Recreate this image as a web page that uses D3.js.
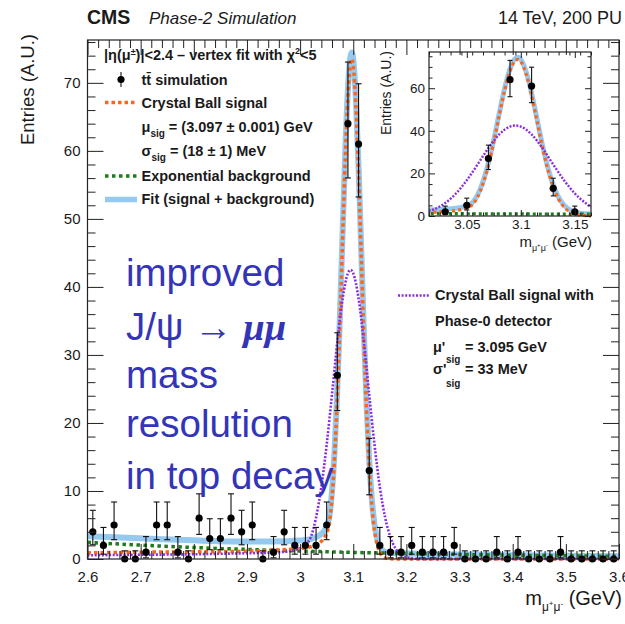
<!DOCTYPE html>
<html><head><meta charset="utf-8">
<script src="https://cdn.jsdelivr.net/npm/d3@7/dist/d3.min.js"></script>
<style>body{margin:0;background:#fff}svg{display:block}</style>
</head><body>
<script>
// ---------- data ----------
const binCenters=[2.61,2.63,2.65,2.67,2.69,2.71,2.73,2.75,2.77,2.79,
2.81,2.83,2.85,2.87,2.89,2.91,2.93,2.95,2.97,2.99,
3.01,3.03,3.05,3.07,3.09,3.11,3.13,3.15,3.17,3.19,
3.21,3.23,3.25,3.27,3.29,3.31,3.33,3.35,3.37,3.39,
3.41,3.43,3.45,3.47,3.49,3.51,3.53,3.55,3.57,3.59];
const entries=[4,2,5,0,0,1,5,5,1,0, 6,3,3,6,4,5,0,1,4,2, 2,2,5,27,64,61,13,2,1,1, 2,1,1,1,2,0,0,0,1,0, 1,0,0,0,1,0,0,0,0,0];
const errHi=[3.16,2.64,3.38,1.2,1.2,2.3,3.38,3.38,2.3,1.2, 3.58,2.92,2.92,3.58,3.16,3.38,1.2,2.3,3.16,2.64, 2.64,2.64,3.38,6.26,9.06,8.87,4.73,2.64,2.3,2.3, 2.64,2.3,2.3,2.3,2.64,1.2,1.2,1.2,2.3,1.2, 2.3,1.2,1.2,1.2,2.3,1.2,1.2,1.2,1.2,1.2];
const errLo=[1.91,1.29,2.16,0,0,0.83,2.16,2.16,0.83,0, 2.38,1.63,1.63,2.38,1.91,2.16,0,0.83,1.91,1.29, 1.29,1.29,2.16,5.17,7.98,7.78,3.56,1.29,0.83,0.83, 1.29,0.83,0.83,0.83,1.29,0,0,0,0.83,0, 0.83,0,0,0,0.83,0,0,0,0,0];

const curveX=[2.6,2.7,2.8,2.9,2.95,3.0,3.02,3.03,3.04,3.045,3.05,3.055,3.06,3.065,3.07,3.075,3.08,3.085,3.09,3.095,3.0975,3.1,3.105,3.11,3.115,3.12,3.125,3.13,3.135,3.14,3.145,3.15,3.155,3.16,3.17,3.2,3.3,3.4,3.5,3.6];
const signalY=[0.9,1.0,1.05,1.15,1.3,1.55,1.8,2.1,2.6,3.0,3.8,5.2,8.9,15.1,23.9,34.8,47.1,58.9,68.1,73.0,73.5,72.5,66.6,56.7,44.6,32.5,21.9,13.7,7.9,4.2,2.1,0.98,0.41,0.16,0.02,0,0,0,0,0];
const fitY=[3.35,3.04,2.74,2.56,2.58,2.72,2.93,3.21,3.69,4.08,4.87,6.26,9.95,16.14,24.93,35.82,48.11,59.9,69.09,73.98,74.48,73.47,67.56,57.65,45.54,33.44,22.83,14.62,8.81,5.1,3.0,1.87,1.29,1.03,0.88,0.81,0.67,0.56,0.47,0.39];
const bkgX=[2.6,2.7,2.8,2.9,3.0,3.1,3.2,3.3,3.4,3.5,3.6];
const bkgY=[2.45,2.04,1.69,1.41,1.17,0.97,0.81,0.67,0.56,0.47,0.39];
const phase0X=[2.6,2.7,2.8,2.9,2.95,2.98,3.0,3.01,3.02,3.03,3.04,3.05,3.06,3.07,3.08,3.09,3.095,3.1,3.11,3.12,3.13,3.14,3.15,3.16,3.17,3.18,3.19,3.2,3.21,3.22,3.25,3.4,3.6];
const phase0Y=[0.55,0.62,0.7,0.85,0.95,1.15,1.6,2.1,3.2,6.1,10.6,16.8,24.2,31.9,38.3,42.0,42.5,42.0,38.3,31.9,24.2,16.8,10.6,6.1,3.2,1.5,0.68,0.27,0.1,0.03,0,0,0];

const xTicks=[2.6,2.7,2.8,2.9,3.0,3.1,3.2,3.3,3.4,3.5,3.6];
const xTickLabels=["2.6","2.7","2.8","2.9","3","3.1","3.2","3.3","3.4","3.5","3.6"];
const yTicks=[0,10,20,30,40,50,60,70];
const yTickLabels=["0","10","20","30","40","50","60","70"];
const insetXTicks=[3.05,3.1,3.15];
const insetXTickLabels=["3.05","3.1","3.15"];
const insetYTicks=[0,20,40,60];
const insetYTickLabels=["0","20","40","60"];

// ---------- colours ----------
const C_FIT="#95c9f0", C_SIG="#fa661c", C_BKG="#1b7d1b", C_PH0="#8a2be2", C_TXT="#1a1a1a", C_BIG="#3434b8";
const FONT="'Liberation Sans', Arial, Helvetica, sans-serif";

const svg=d3.select("body").append("svg").attr("width",625).attr("height",624)
  .style("font-family",FONT);
svg.append("rect").attr("width",625).attr("height",624).attr("fill","#fff");
const defs=svg.append("defs");

function drawPanel(g, x, y, opt){
  const [x0,x1]=x.range(), [y0,y1]=y.range(); // y0 bottom, y1 top
  const cid="clip"+opt.id;
  defs.append("clipPath").attr("id",cid).append("rect")
    .attr("x",x0).attr("y",y1).attr("width",x1-x0).attr("height",y0-y1+3);
  const cg=g.append("g").attr("clip-path",`url(#${cid})`);
  const line=(xs,ys)=>d3.line().x(d=>x(d[0])).y(d=>y(d[1])).curve(d3.curveMonotoneX)(d3.zip(xs,ys));
  cg.append("path").attr("d",line(curveX,fitY)).attr("fill","none").attr("stroke",C_FIT).attr("stroke-width",opt.fitW).attr("stroke-linejoin","round");
  cg.append("path").attr("d",line(bkgX,bkgY)).attr("fill","none").attr("stroke",C_BKG).attr("stroke-width",opt.dotW).attr("stroke-dasharray",opt.bkgDash);
  cg.append("path").attr("d",line(curveX,signalY)).attr("fill","none").attr("stroke",C_SIG).attr("stroke-width",opt.dotW).attr("stroke-dasharray",opt.sigDash);
  cg.append("path").attr("d",line(phase0X,phase0Y)).attr("fill","none").attr("stroke",C_PH0).attr("stroke-width",opt.phW).attr("stroke-dasharray",opt.phDash);

  // points
  const dom=x.domain();
  const pts=binCenters.map((c,i)=>({c,v:entries[i],hi:errHi[i],lo:errLo[i]})).filter(p=>p.c>=dom[0]&&p.c<=dom[1]);
  const pg=g.append("g");
  pts.forEach(p=>{
    const cx=x(p.c), yt=y(p.v+p.hi), yb=y(p.v-p.lo);
    pg.append("line").attr("x1",cx).attr("x2",cx).attr("y1",yt).attr("y2",yb).attr("stroke","#111").attr("stroke-width",1.1);
    pg.append("line").attr("x1",cx-opt.cap).attr("x2",cx+opt.cap).attr("y1",yt).attr("y2",yt).attr("stroke","#111").attr("stroke-width",1.1);
    if(p.lo>0) pg.append("line").attr("x1",cx-opt.cap).attr("x2",cx+opt.cap).attr("y1",yb).attr("y2",yb).attr("stroke","#111").attr("stroke-width",1.1);
    pg.append("circle").attr("cx",cx).attr("cy",y(p.v)).attr("r",opt.r).attr("fill","#000");
  });

  // axes
  function styl(a){ a.select(".domain").remove(); a.selectAll("line").attr("stroke","#222").attr("stroke-width",1);
    a.selectAll("text").attr("fill",C_TXT).style("font-size",opt.tickFont+"px").style("font-family",FONT); }
  const xMinor=d3.range(dom[0],dom[1]+1e-9,opt.xMinorStep).filter(v=>!opt.xMajor.some(m=>Math.abs(m-v)<1e-6));
  const yd=y.domain();
  const yMinor=d3.range(0,yd[1],opt.yMinorStep).filter(v=>!opt.yMajor.some(m=>Math.abs(m-v)<1e-6));
  styl(g.append("g").attr("transform",`translate(0,${y0})`).call(d3.axisBottom(x).tickValues(opt.xMajor).tickFormat((d,i)=>opt.xLabels[i]).tickSize(-opt.major).tickPadding(opt.xPad)));
  styl(g.append("g").attr("transform",`translate(0,${y0})`).call(d3.axisBottom(x).tickValues(xMinor).tickFormat("").tickSize(-opt.minor)));
  styl(g.append("g").attr("transform",`translate(0,${y1})`).call(d3.axisTop(x).tickValues(opt.xMajor).tickFormat("").tickSize(-opt.major)));
  styl(g.append("g").attr("transform",`translate(0,${y1})`).call(d3.axisTop(x).tickValues(xMinor).tickFormat("").tickSize(-opt.minor)));
  styl(g.append("g").attr("transform",`translate(${x0},0)`).call(d3.axisLeft(y).tickValues(opt.yMajor).tickFormat((d,i)=>opt.yLabels[i]).tickSize(-opt.majorY).tickPadding(opt.yPad)));
  styl(g.append("g").attr("transform",`translate(${x0},0)`).call(d3.axisLeft(y).tickValues(yMinor).tickFormat("").tickSize(-opt.minorY)));
  styl(g.append("g").attr("transform",`translate(${x1},0)`).call(d3.axisRight(y).tickValues(opt.yMajor).tickFormat("").tickSize(-opt.majorY)));
  styl(g.append("g").attr("transform",`translate(${x1},0)`).call(d3.axisRight(y).tickValues(yMinor).tickFormat("").tickSize(-opt.minorY)));
  g.append("rect").attr("x",x0).attr("y",y1).attr("width",x1-x0).attr("height",y0-y1).attr("fill","none").attr("stroke","#222").attr("stroke-width",1.2);
}

// ---------- main panel ----------
const x=d3.scaleLinear().domain([2.6,3.6]).range([87.5,619]);
const y=d3.scaleLinear().domain([0,76.3]).range([559,40]);
drawPanel(svg.append("g"), x, y, {id:"m", fitW:6, dotW:3.5, sigDash:"3.5,3", bkgDash:"3.5,3.5", phW:2.6, phDash:"2,1.6",
  cap:3, r:3.6, tickFont:15, xMajor:xTicks, xLabels:xTickLabels, yMajor:yTicks, yLabels:yTickLabels,
  xMinorStep:0.02, yMinorStep:2, major:15, minor:8, majorY:16, minorY:8, xPad:12, yPad:7});

// ---------- inset ----------
const xi=d3.scaleLinear().domain([3.015,3.165]).range([429,591]);
const yi=d3.scaleLinear().domain([0,77]).range([216,52]);
drawPanel(svg.append("g"), xi, yi, {id:"i", fitW:5, dotW:3.2, sigDash:"3.2,3", bkgDash:"3,3", phW:2.4, phDash:"2,1.5",
  cap:2.5, r:3.6, tickFont:13.5, xMajor:insetXTicks, xLabels:insetXTickLabels, yMajor:insetYTicks, yLabels:insetYTickLabels,
  xMinorStep:0.01, yMinorStep:5, major:6, minor:3.5, majorY:6, minorY:3.5, xPad:3, yPad:4});

// ---------- header ----------
svg.append("text").attr("x",87).attr("y",24).style("font-size","19.5px").style("font-weight","bold").attr("fill",C_TXT).text("CMS");
svg.append("text").attr("x",149).attr("y",24).style("font-size","17px").style("font-style","italic").attr("fill",C_TXT).text("Phase-2 Simulation");
svg.append("text").attr("x",622).attr("y",24).attr("text-anchor","end").style("font-size","18px").attr("fill",C_TXT).text("14 TeV, 200 PU");

// axis titles
svg.append("text").attr("transform","translate(34,34) rotate(-90)").attr("text-anchor","end").style("font-size","18.5px").attr("fill",C_TXT).text("Entries (A.U.)");
{
  const t=svg.append("text").attr("x",622).attr("y",605).attr("text-anchor","end").style("font-size","20px").attr("fill",C_TXT);
  t.append("tspan").text("m");
  t.append("tspan").attr("dy",6).style("font-size","12px").text("μ");
  t.append("tspan").attr("dy",-5).style("font-size","8px").text("+");
  t.append("tspan").attr("dy",5).style("font-size","12px").text("μ");
  t.append("tspan").attr("dy",-5).style("font-size","8px").text("-");
  t.append("tspan").attr("dy",-1).style("font-size","20px").text(" (GeV)");
}
svg.append("text").attr("transform","translate(391,51) rotate(-90)").attr("text-anchor","end").style("font-size","14px").attr("fill",C_TXT).text("Entries (A.U.)");
{
  const t=svg.append("text").attr("x",592).attr("y",247).attr("text-anchor","end").style("font-size","15px").attr("fill",C_TXT);
  t.append("tspan").text("m");
  t.append("tspan").attr("dy",4).style("font-size","9px").text("μ");
  t.append("tspan").attr("dy",-4).style("font-size","6px").text("+");
  t.append("tspan").attr("dy",4).style("font-size","9px").text("μ");
  t.append("tspan").attr("dy",-4).style("font-size","6px").text("-");
  t.append("tspan").style("font-size","15px").text(" (GeV)");
}

// ---------- legend ----------
const lg=svg.append("g").style("font-weight","bold").style("font-size","14.5px").attr("fill",C_TXT);
{
  const t=lg.append("text").attr("x",104).attr("y",60);
  t.append("tspan").text("|η(μ");
  t.append("tspan").attr("dy",-5).style("font-size","9px").text("±");
  t.append("tspan").attr("dy",5).text(")|<2.4  – vertex fit with χ");
  t.append("tspan").attr("dy",-6).style("font-size","9px").text("2");
  t.append("tspan").attr("dy",6).text("<5");
}
lg.append("line").attr("x1",121).attr("x2",121).attr("y1",72).attr("y2",87).attr("stroke","#111").attr("stroke-width",1.1);
lg.append("circle").attr("cx",121).attr("cy",79.5).attr("r",3.6).attr("fill","#000");
lg.append("text").attr("x",141.5).attr("y",84.5).text("tt\u0304 simulation");
lg.append("line").attr("x1",105).attr("x2",137).attr("y1",102.5).attr("y2",102.5).attr("stroke",C_SIG).attr("stroke-width",3.5).attr("stroke-dasharray","3.5,3");
lg.append("text").attr("x",141.5).attr("y",108).text("Crystal Ball signal");
{
  const t=lg.append("text").attr("x",141.5).attr("y",131.5);
  t.append("tspan").text("μ");
  t.append("tspan").attr("dy",5).style("font-size","10px").text("sig");
  t.append("tspan").attr("dy",-5).text(" = (3.097 ± 0.001) GeV");
  const s=lg.append("text").attr("x",141.5).attr("y",155.5);
  s.append("tspan").text("σ");
  s.append("tspan").attr("dy",5).style("font-size","10px").text("sig");
  s.append("tspan").attr("dy",-5).text(" = (18 ± 1) MeV");
}
lg.append("line").attr("x1",105).attr("x2",137).attr("y1",176).attr("y2",176).attr("stroke",C_BKG).attr("stroke-width",3.5).attr("stroke-dasharray","3.5,3.5");
lg.append("text").attr("x",141.5).attr("y",180.5).text("Exponential background");
lg.append("line").attr("x1",105).attr("x2",137).attr("y1",199.5).attr("y2",199.5).attr("stroke",C_FIT).attr("stroke-width",5.5);
lg.append("text").attr("x",141.5).attr("y",204).text("Fit (signal + background)");

const lg2=svg.append("g").style("font-weight","bold").style("font-size","14.5px").attr("fill",C_TXT);
lg2.append("line").attr("x1",398).attr("x2",429).attr("y1",295.5).attr("y2",295.5).attr("stroke",C_PH0).attr("stroke-width",2.6).attr("stroke-dasharray","2,1.6");
lg2.append("text").attr("x",435).attr("y",300).text("Crystal Ball signal with");
lg2.append("text").attr("x",435).attr("y",326).text("Phase-0 detector");
lg2.append("text").attr("x",433).attr("y",352).text("μ'");
lg2.append("text").attr("x",446).attr("y",363).style("font-size","10px").text("sig");
lg2.append("text").attr("x",465).attr("y",352).text("= 3.095 GeV");
lg2.append("text").attr("x",433).attr("y",374).text("σ'");
lg2.append("text").attr("x",446).attr("y",387).style("font-size","10px").text("sig");
lg2.append("text").attr("x",465).attr("y",374).text("= 33 MeV");

// ---------- overlay annotation ----------
const big=svg.append("g").style("font-size","38.5px").attr("fill",C_BIG);
big.append("text").attr("x",126).attr("y",286).text("improved");
{
  const t=big.append("text").attr("x",126).attr("y",340);
  t.append("tspan").text("J/ψ → ");
  t.append("tspan").style("font-family","'Liberation Serif','Times New Roman',serif").style("font-weight","bold").style("font-style","italic").text("μμ");
}
big.append("text").attr("x",126).attr("y",388).text("mass");
big.append("text").attr("x",126).attr("y",437).text("resolution");
big.append("text").attr("x",126).attr("y",489).text("in top decay");
</script>
</body></html>
